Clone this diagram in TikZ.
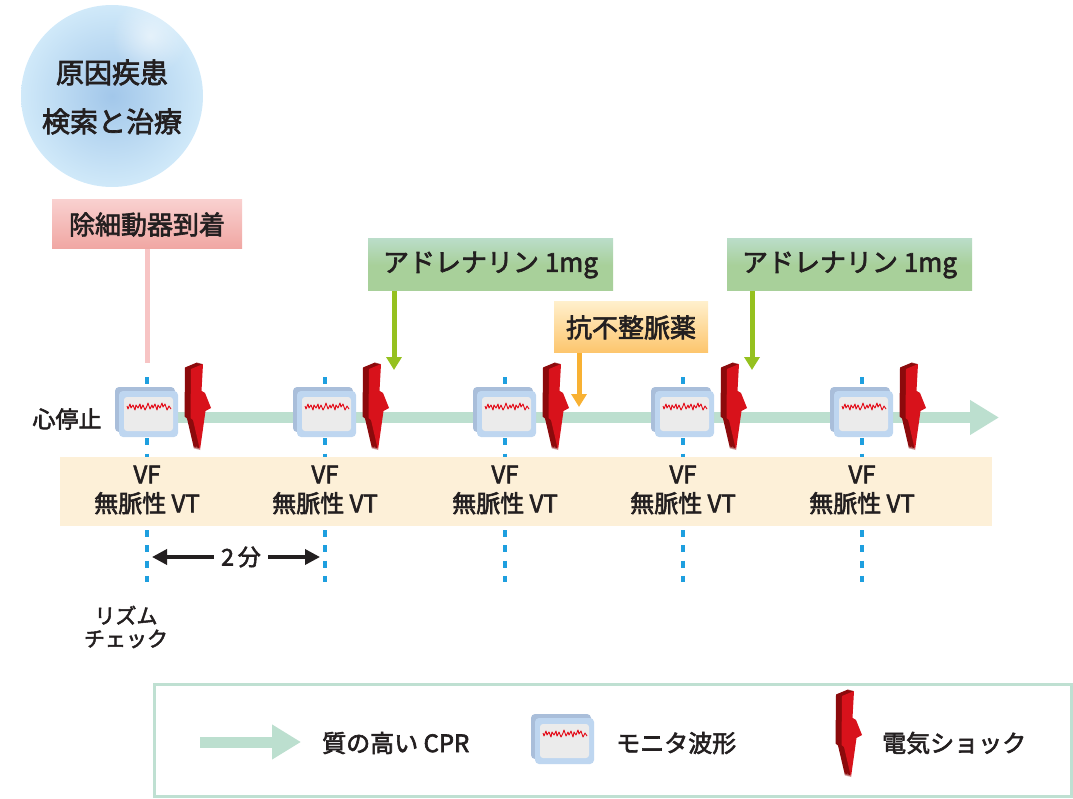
\documentclass[tikz,border=0pt]{standalone}
\usepackage{fontspec}
\setmainfont{Noto Sans CJK JP}[FakeBold=2.5]
\usetikzlibrary{arrows.meta,fadings}

\definecolor{ink}{HTML}{231F20}
\definecolor{bubin}{HTML}{A2C7EA}
\definecolor{bubout}{HTML}{D0E9F9}
\definecolor{pinktop}{HTML}{F9D0CF}
\definecolor{pinkbot}{HTML}{F0A6A2}
\definecolor{pinkline}{HTML}{F7C4C4}
\definecolor{greentop}{HTML}{BADDC8}
\definecolor{greenbot}{HTML}{A8D09A}
\definecolor{greenarrow}{HTML}{95C11F}
\definecolor{orangetop}{HTML}{FFEFCB}
\definecolor{orangebot}{HTML}{FDC56C}
\definecolor{orangearrow}{HTML}{F8B133}
\definecolor{dashblue}{HTML}{1E9FDF}
\definecolor{bandfill}{HTML}{FDF0D8}
\definecolor{cprgreen}{HTML}{BCDFCF}
\definecolor{monback}{HTML}{A9BEDA}
\definecolor{monface}{HTML}{BED6F0}
\definecolor{monscreen}{HTML}{EBEBEB}
\definecolor{wavered}{HTML}{E30613}
\definecolor{boltdark}{HTML}{8C0A0C}
\definecolor{boltred}{HTML}{D8121B}
\definecolor{legendline}{HTML}{BFE0D2}

\tikzfading[name=glow, inner color=transparent!0, outer color=transparent!100]

\tikzset{
  monitor/.pic={
    \fill[monback, rounded corners=4pt] (-32,-25) rectangle (28,20);
    \fill[monface, rounded corners=4pt] (-28,-21) rectangle (31,25);
    \fill[monscreen, rounded corners=3pt] (-23,-15) rectangle (26,19);
    \draw[wavered, line width=0.9pt, line join=round]
      (-20,-6) -- (-19,-3) -- (-17,-8) -- (-16,-4) -- (-14,-7) -- (-12,-2)
      -- (-11,-7) -- (-9,-4) -- (-7,-8) -- (-6,-3) -- (-4,-7) -- (-2,-2)
      -- (0,-6) -- (1,-9) -- (3,-3) -- (5,-7) -- (6,-4) -- (8,-8) -- (10,-2)
      -- (11,-7) -- (13,-4) -- (15,-9) -- (16,-5) -- (18,-8) -- (20,-2)
      -- (22,-6) -- (24,-3);
  },
  bolt/.pic={
    % extruded side, then the front face
    \foreach \k in {8,7,...,1}
      \fill[boltdark, shift={(-0.75*\k,-0.19*\k)}]
        (11,6) -- (23,1) -- (21.5,28) -- (25,30) -- (31,45) -- (25.5,48)
        -- (20,87) -- (13,57) -- (10.5,55) -- cycle;
    \fill[boltred]
      (11,6) -- (23,1) -- (21.5,28) -- (25,30) -- (31,45) -- (25.5,48)
      -- (20,87) -- (13,57) -- (10.5,55) -- cycle;
  }
}

\begin{document}
\begin{tikzpicture}[x=1pt,y=-1pt,
  txt/.style={text=ink, inner sep=0pt},
  tagbox/.style={text=ink, inner sep=0pt, font=\fontsize{26}{30}\selectfont},
  druglead/.style={line width=5pt, -{Triangle[width=15pt,length=13pt]}},
  checkline/.style={dashblue, line width=3.5pt, dash pattern=on 7pt off 8.3pt},
  rhythm/.style={txt, align=center, font=\fontsize{24}{29}\selectfont},
  cpr/.style={cprgreen, line width=11pt, -{Triangle[width=33pt,length=29pt]}},
  interval/.style={ink, line width=3.5pt, {Triangle[width=15pt,length=15pt]}-{Triangle[width=15pt,length=15pt]}},
  legendtxt/.style={txt, anchor=west, font=\fontsize{24}{28}\selectfont}
]
\useasboundingbox (0,0) rectangle (1073,799);

% cause-finding bubble
\node[circle, minimum size=182pt, inner sep=0pt, inner color=bubin, outer color=bubout] (bubble) at (112,96) {};
\fill[white, path fading=glow, opacity=0.55] (150,36) circle (38);
\node[txt, align=center, font=\fontsize{28}{49}\selectfont] (cause) at (112,97) {原因疾患\\検索と治療};

% defibrillator arrival
\node[tagbox, minimum width=190pt, minimum height=49pt, top color=pinktop, bottom color=pinkbot] (defib) at (147,224.5) {除細動器到着};
\coordinate (defibend) at (147,363);
\draw[pinkline, line width=5pt] (defib.south) -- (defibend);

% drug boxes
\node[tagbox, minimum width=245pt, minimum height=52pt, top color=greentop, bottom color=greenbot, middle color=greenbot] (adr1) at (490.5,265) {アドレナリン 1mg};
\node[tagbox, minimum width=245pt, minimum height=52pt, top color=greentop, bottom color=greenbot, middle color=greenbot] (adr2) at (849.5,265) {アドレナリン 1mg};
\node[tagbox, minimum width=154pt, minimum height=51pt, top color=orangetop, bottom color=orangebot] (anti) at (631,327.5) {抗不整脈薬};

% rhythm check lines
\foreach \x [count=\i] in {147,325,505,683,862} {
  \coordinate (top\i) at (\x,377);
  \coordinate (bot\i) at (\x,582);
  \draw[checkline] (top\i) -- (bot\i);
}

% rhythm band
\node[fill=bandfill, minimum width=932pt, minimum height=69pt, inner sep=0pt, anchor=north west] (band) at (60,457) {};
\foreach \x [count=\i] in {147,325,505,683,862}
  \node[rhythm] (r\i) at (\x,490) {VF\\無脈性 VT};

% CPR timeline
\coordinate (cprA) at (170,417.5);
\coordinate (cprB) at (999,417.5);
\draw[cpr] (cprA) -- (cprB);

% monitors and shocks
\foreach \x in {147,325,505,683,862} {
  \pic at (\x,412) {monitor};
  \pic at (\x+33,363) {bolt};
}

% drug arrows
\coordinate (tip1) at (394,370);
\coordinate (tip2) at (752,370);
\coordinate (tip3) at (579,407);
\draw[greenarrow, druglead] (adr1.south -| tip1) -- (tip1);
\draw[greenarrow, druglead] (adr2.south -| tip2) -- (tip2);
\draw[orangearrow, druglead] (anti.south -| tip3) -- (tip3);

% labels
\node[txt, font=\fontsize{23}{23}\selectfont] (arrest) at (67,419) {心停止};
\node[txt, align=center, font=\fontsize{21}{23}\selectfont] (check) at (126,627) {リズム\\チェック};

% two-minute interval
\coordinate (twoL) at (152,557);
\coordinate (twoR) at (320,557);
\draw[interval] (twoL) -- node[pos=0.53, fill=white, text=ink, inner xsep=7pt, inner ysep=2pt, font=\fontsize{23}{23}\selectfont] (twomin) {2\,分} (twoR);

% legend
\node[draw=legendline, line width=3pt, fill=white, minimum width=917pt, minimum height=112pt, inner sep=0pt, anchor=north west] (legend) at (153,683) {};
\coordinate (legA) at (200,742);
\coordinate (legB) at (301,742);
\draw[cpr] (legA) -- (legB);
\node[legendtxt] (legcpr) at (322,743) {質の高い CPR};
\pic at (563,739) {monitor};
\node[legendtxt] (legmon) at (616,743) {モニタ波形};
\pic at (831,690) {bolt};
\node[legendtxt] (legshock) at (882,743) {電気ショック};
\end{tikzpicture}
\end{document}
